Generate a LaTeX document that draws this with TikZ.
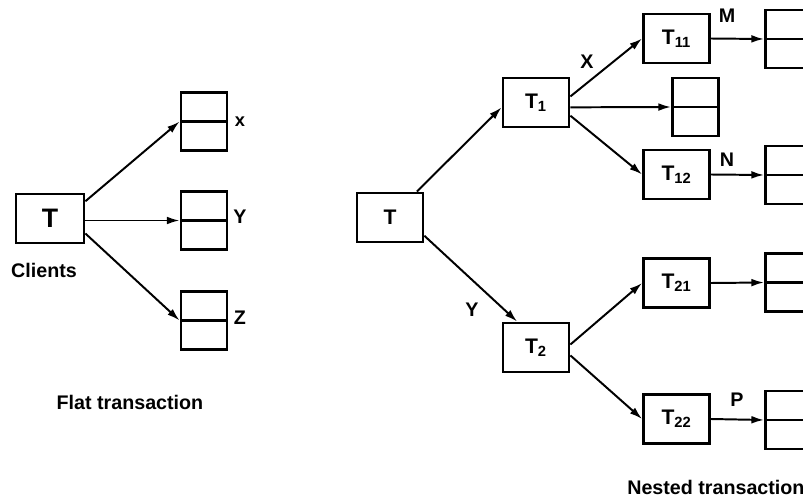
\documentclass[tikz,border=0pt]{standalone}
\usepackage{fontspec}
\setmainfont{Liberation Sans}
\usetikzlibrary{arrows.meta}

\tikzset{
  txn/.style={draw, line width=2pt, minimum width=1.65cm, minimum height=1.225cm,
    inner sep=0pt, font=\fontsize{15}{18}\selectfont\bfseries},
  store/.style={draw, line width=2pt, minimum width=1.15cm, minimum height=1.45cm,
    inner sep=0pt,
    path picture={\draw[line width=1.5pt] (path picture bounding box.west) -- (path picture bounding box.east);}},
  lbl/.style={inner sep=0pt, font=\fontsize{14}{16}\selectfont\bfseries},
  caption/.style={inner sep=0pt, font=\fontsize{14}{16}\selectfont\bfseries},
  link/.style={line width=1.4pt, -{Latex[length=9pt,width=5.5pt]}},
}

\begin{document}
\begin{tikzpicture}[x=0.025cm, y=-0.025cm]
  \useasboundingbox (0,0) rectangle (803,499);

  % flat transaction
  \node[txn, minimum width=1.7cm, font=\fontsize{19}{22}\selectfont\bfseries] (T) at (50,218.5) {T};
  \node[store] (x) at (204,121.5) {};
  \node[store] (y) at (204,220.5) {};
  \node[store] (z) at (204,320.5) {};

  \draw[link] (T.26) -- (x.west);
  \draw[link] (T.east |- y.west) -- (y.west);
  \draw[link] (T.-23) -- (z.west);

  \node[lbl, font=\fontsize{13}{15}\selectfont\bfseries] (lx) at (240,122) {x};
  \node[lbl] (ly) at (240,217) {Y};
  \node[lbl] (lz) at (240,318) {Z};
  \node[caption] (clients) at (44,270) {Clients};
  \node[caption] (flat) at (130,402) {Flat transaction};

  % nested transaction
  \node[txn] (N) at (390,217.5) {T};
  \node[txn] (T1) at (536,102.5) {T\textsubscript{1}};
  \node[txn] (T11) at (676.5,38.5) {T\textsubscript{11}};
  \node[store] (s1) at (695.5,107) {};
  \node[txn] (T12) at (676.5,174.5) {T\textsubscript{12}};
  \node[txn] (T2) at (536,347.5) {T\textsubscript{2}};
  \node[txn] (T21) at (676.5,283) {T\textsubscript{21}};
  \node[txn] (T22) at (676.5,419) {T\textsubscript{22}};

  \node[store] (m) at (788.5,39) {};
  \node[store] (n) at (788.5,175) {};
  \node[store] (q) at (788.5,282.5) {};
  \node[store] (p) at (788.5,420) {};

  \draw[link] (N.44) -- (T1.188);
  \draw[link] (N.-28) -- (T2.126);
  \draw[link] (T1.10) -- (T11.west);
  \draw[link] (T1.-8) -- (s1.west);
  \draw[link] (T1.-21) -- (T12.west);
  \draw[link] (T2.5) -- (T21.west);
  \draw[link] (T2.-13) -- (T22.west);
  \draw[link] (T11.east) -- (m.west);
  \draw[link] (T12.east) -- (n.west);
  \draw[link] (T21.east) -- (q.west);
  \draw[link] (T22.east) -- (p.west);

  \node[lbl] (lX) at (587,62) {X};
  \node[lbl] (lY) at (472,310) {Y};
  \node[lbl] (lM) at (727,16) {M};
  \node[lbl] (lN) at (727,160) {N};
  \node[lbl] (lP) at (737,400) {P};
  \node[caption, anchor=west] (nested) at (627,487) {Nested transaction};
\end{tikzpicture}
\end{document}
